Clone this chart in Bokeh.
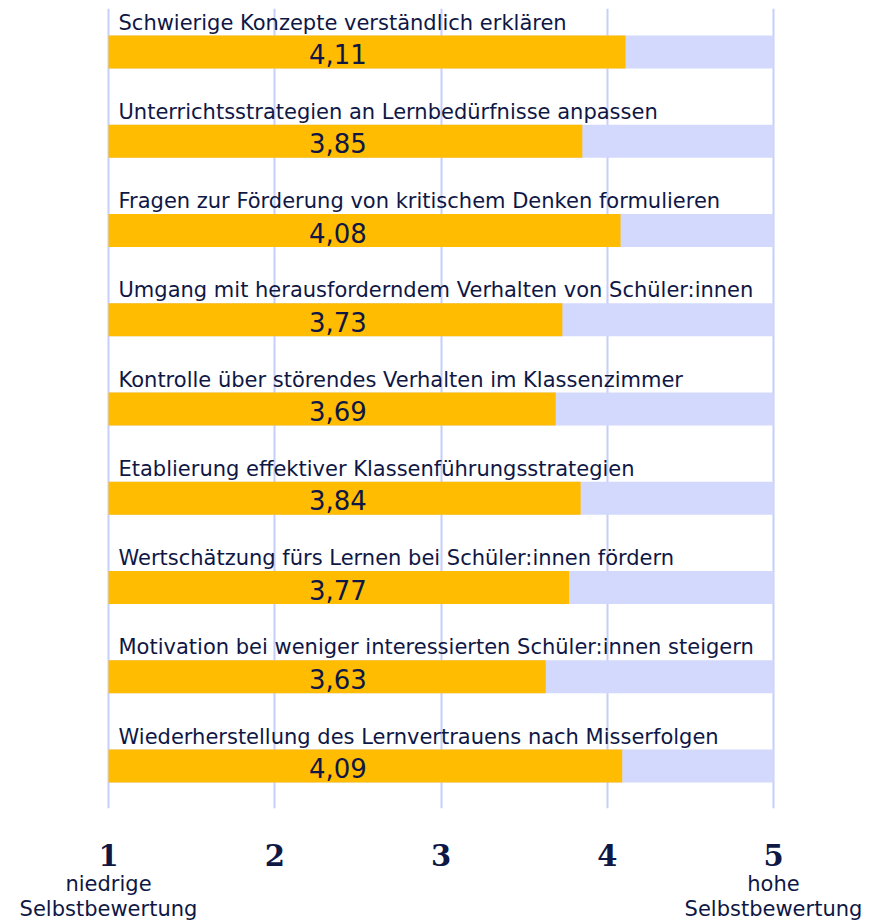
from bokeh.plotting import figure
from bokeh.models import Range1d, FixedTicker, ColumnDataSource, LinearAxis
from bokeh.core.properties import value
from bokeh.embed import file_html
from bokeh.resources import INLINE

# ---- data ----
items = [
    "Schwierige Konzepte verständlich erklären",
    "Unterrichtsstrategien an Lernbedürfnisse anpassen",
    "Fragen zur Förderung von kritischem Denken formulieren",
    "Umgang mit herausforderndem Verhalten von Schüler:innen",
    "Kontrolle über störendes Verhalten im Klassenzimmer",
    "Etablierung effektiver Klassenführungsstrategien",
    "Wertschätzung fürs Lernen bei Schüler:innen fördern",
    "Motivation bei weniger interessierten Schüler:innen steigern",
    "Wiederherstellung des Lernvertrauens nach Misserfolgen",
]
scores = [4.11, 3.85, 4.08, 3.73, 3.69, 3.84, 3.77, 3.63, 4.09]
score_labels = ["4,11", "3,85", "4,08", "3,73", "3,69", "3,84", "3,77", "3,63", "4,09"]
scale_ticks = [1, 2, 3, 4, 5]
scale_min, scale_max = 1, 5
end_ticks = [1, 5]
end_labels = ["niedrige\nSelbstbewertung", "hohe\nSelbstbewertung"]

# ---- style / layout ----
NAVY = "#0f1745"
ORANGE = "#ffbc00"
LAVENDER = "#d2d9fc"
GRID = "#c6cefa"
SANS = "DejaVu Sans"

W, H = 876, 923
frame_top = 8
frame_h = 800
px_per_unit = 166.25
x0_px = 108.0
row_px = 89.25
first_row_px = 43.5
bar_px = 33.0

x_start = scale_min - x0_px / px_per_unit
x_end = x_start + W / px_per_unit
y_top = -first_row_px / row_px
y_bottom = (frame_h - first_row_px) / row_px

idx = list(range(len(items)))
src = ColumnDataSource(dict(y=idx, item=items, score=scores, lab=score_labels,
                            lo=[scale_min] * len(items), hi=[scale_max] * len(items)))

p = figure(width=W, height=H, x_range=Range1d(x_start, x_end), y_range=Range1d(y_bottom, y_top),
           output_backend="svg", toolbar_location=None, y_axis_location=None,
           min_border_left=0, min_border_right=0, min_border_top=frame_top,
           min_border_bottom=H - frame_top - frame_h)
p.outline_line_color = None
p.background_fill_color = "white"
p.border_fill_color = "white"
p.ygrid.visible = False
p.xgrid.ticker = FixedTicker(ticks=scale_ticks)
p.xgrid.grid_line_color = GRID
p.xgrid.grid_line_width = 2


def style_axis(ax):
    ax.axis_line_color = None
    ax.major_tick_line_color = None
    ax.minor_tick_line_color = None
    ax.major_tick_out = 0
    ax.major_tick_in = 0
    ax.minor_tick_out = 0
    ax.minor_tick_in = 0
    ax.major_label_text_color = NAVY


ax1 = p.xaxis[0]
ax1.ticker = FixedTicker(ticks=scale_ticks)
style_axis(ax1)
ax1.major_label_text_font = "DejaVu Serif"
ax1.major_label_text_font_style = "bold"
ax1.major_label_text_font_size = "29px"
ax1.major_label_standoff = 35

ax2 = LinearAxis(ticker=FixedTicker(ticks=end_ticks),
                 major_label_overrides={t: s for t, s in zip(end_ticks, end_labels)})
style_axis(ax2)
ax2.major_label_text_font = SANS
ax2.major_label_text_font_size = "21px"
ax2.major_label_text_line_height = 1.05
ax2.major_label_standoff = 3
p.add_layout(ax2, "below")

bh = bar_px / row_px
p.hbar(y="y", left="lo", right="hi", height=bh, source=src, fill_color=LAVENDER, line_color=None)
p.hbar(y="y", left="lo", right="score", height=bh, source=src, fill_color=ORANGE, line_color=None)

p.text(x=scale_min, y="y", text="item", source=src, x_offset=10, y_offset=-(bar_px / 2 + 13),
       text_baseline="alphabetic", text_align="left", text_font=value(SANS),
       text_font_size="21px", text_color=NAVY)

value_x = 2.38
p.text(x=value_x, y="y", text="lab", source=src, text_align="center", text_baseline="middle",
       y_offset=2, text_font=value(SANS), text_font_size="26px", text_color=NAVY)

open("out.html", "w").write(file_html(p, INLINE))
